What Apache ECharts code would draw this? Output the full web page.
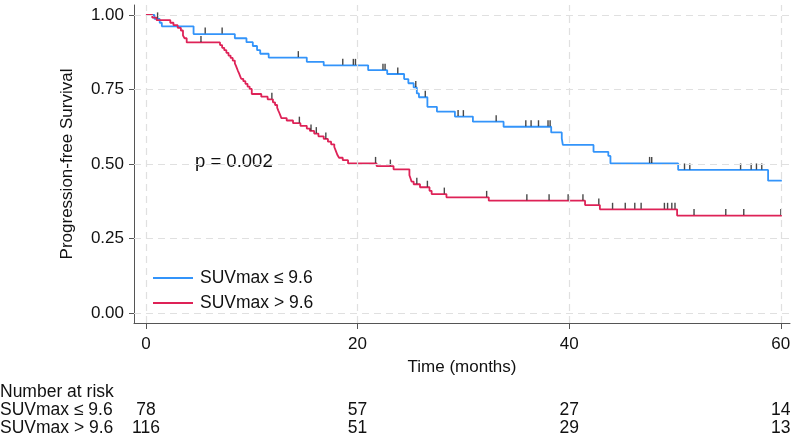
<!DOCTYPE html>
<html><head><meta charset="utf-8">
<script src="https://cdn.jsdelivr.net/npm/echarts@6/dist/echarts.min.js"></script>
<style>html,body{margin:0;padding:0;background:#fff}#c{width:794px;height:437px}</style>
</head><body><div id="c"></div>
<script>
const xTicks = [0, 20, 40, 60];
const yTicks = [0, 0.25, 0.5, 0.75, 1];
const groupNames = ['SUVmax ≤ 9.6', 'SUVmax > 9.6'];

const blueTimes = [0, 0.8, 1.3, 1.5, 4.5, 8.4, 9.5, 10.1, 10.5, 10.8, 11.6, 15.2, 16.8, 21.0, 22.8, 24.4, 24.8, 25.3, 25.6, 25.8, 26.6, 27.5, 29.2, 30.9, 33.8, 38.3, 39.3, 39.4, 42.3, 43.7, 43.9, 50.3, 58.8, 60.1];
const blueSurv  = [1.0, 0.987, 0.974, 0.962, 0.936, 0.922, 0.909, 0.896, 0.882, 0.870, 0.857, 0.843, 0.831, 0.815, 0.802, 0.785, 0.771, 0.757, 0.737, 0.724, 0.692, 0.676, 0.659, 0.642, 0.625, 0.606, 0.586, 0.564, 0.541, 0.527, 0.502, 0.480, 0.444, 0.444];
const blueCensor = [1.1, 5.6, 7.2, 14.4, 18.6, 19.6, 19.8, 22.4, 22.6, 23.8, 25.5, 26.4, 29.5, 30.0, 33.1, 35.9, 36.4, 37.1, 38.0, 38.2, 47.6, 47.8, 50.9, 51.4, 56.2, 57.2, 57.7, 58.2];

const redTimes = [0, 0.6, 1.0, 2.3, 2.6, 3.0, 3.3, 3.5, 3.65, 3.85, 7.0, 7.2, 7.4, 7.6, 7.8, 8.0, 8.2, 8.4, 8.5, 8.6, 8.7, 8.8, 8.9, 9.0, 9.2, 9.4, 9.6, 9.8, 10.0, 10.9, 11.5, 12.0, 12.2, 12.4, 12.5, 12.6, 12.7, 12.8, 13.3, 13.9, 14.6, 15.2, 15.5, 15.9, 16.3, 16.8, 17.2, 17.5, 17.8, 17.9, 18.0, 18.1, 18.25, 18.6, 19.1, 21.8, 23.4, 24.9, 25.0, 25.1, 25.3, 25.9, 26.8, 27.0, 28.4, 32.4, 41.5, 42.9, 50.2, 60.1];
const redSurv  = [1.0, 0.991, 0.983, 0.974, 0.966, 0.957, 0.948, 0.931, 0.922, 0.908, 0.899, 0.890, 0.882, 0.873, 0.864, 0.856, 0.847, 0.838, 0.830, 0.821, 0.812, 0.804, 0.795, 0.786, 0.778, 0.769, 0.760, 0.752, 0.735, 0.726, 0.717, 0.707, 0.698, 0.689, 0.680, 0.672, 0.663, 0.654, 0.646, 0.637, 0.628, 0.619, 0.611, 0.602, 0.593, 0.584, 0.575, 0.566, 0.557, 0.548, 0.539, 0.530, 0.521, 0.513, 0.502, 0.493, 0.482, 0.462, 0.452, 0.441, 0.432, 0.422, 0.410, 0.399, 0.388, 0.377, 0.362, 0.348, 0.327, 0.327];
const redCensor = [5.2, 11.9, 14.5, 15.6, 16.1, 17.0, 21.7, 23.1, 25.6, 26.6, 28.2, 32.2, 36.0, 38.1, 39.9, 41.3, 42.8, 44.1, 45.3, 46.2, 46.8, 49.0, 49.3, 49.7, 50.0, 51.8, 54.8, 56.5, 60.0];

const riskTimes = [0, 20, 40, 60];
const riskBlue = [78, 57, 27, 14];
const riskRed = [116, 51, 29, 13];
const riskTitle = 'Number at risk';
const pText = 'p = 0.002';
const xTitle = 'Time (months)';
const yTitle = 'Progression-free Survival';

const BLUE = '#3394fa';
const RED = '#de2257';
const FONT = 'Liberation Sans, Arial, sans-serif';

function levelAt(times, surv, t) {
  let v = surv[0];
  for (let i = 0; i < times.length; i++) { if (times[i] <= t) v = surv[i]; }
  return v;
}
const zip = (a, b) => a.map((t, i) => [t, b[i]]);
const censorPts = (c, times, surv) => c.map(t => [t, levelAt(times, surv, t)]);

const chart = echarts.init(document.getElementById('c'), null, { renderer: 'canvas' });

const gridLines = yTicks.map(v => ({ yAxis: v })).concat(xTicks.map(v => ({ xAxis: v })));

const option = {
  animation: false,
  backgroundColor: '#fff',
  textStyle: { fontFamily: FONT },
  grid: { left: 134, right: 4, top: 5, bottom: 114, containLabel: false },
  xAxis: {
    type: 'value', min: -1.13, max: 60.87,
    name: xTitle, nameLocation: 'middle', nameGap: 36,
    nameTextStyle: { fontSize: 17, color: '#111', fontFamily: FONT },
    axisLine: { show: true, onZero: false, lineStyle: { color: '#555', width: 1 } },
    axisTick: { show: true, length: 6, customValues: xTicks, lineStyle: { color: '#555' } },
    axisLabel: { customValues: xTicks, margin: 13, fontSize: 17, color: '#111', fontFamily: FONT },
    splitLine: { show: false }
  },
  yAxis: {
    type: 'value', min: -0.0336, max: 1.0336,
    name: yTitle, nameLocation: 'middle', nameGap: 58, nameRotate: 90,
    nameTextStyle: { fontSize: 17, color: '#111', fontFamily: FONT },
    axisLine: { show: true, onZero: false, lineStyle: { color: '#555', width: 1 } },
    axisTick: { show: true, length: 5, customValues: yTicks, lineStyle: { color: '#555' } },
    axisLabel: { customValues: yTicks, margin: 10, fontSize: 17, color: '#111', fontFamily: FONT,
      formatter: v => v.toFixed(2) },
    splitLine: { show: false }
  },
  legend: {
    orient: 'vertical', left: 148, top: 264,
    data: groupNames, icon: 'rect', itemWidth: 40, itemHeight: 2, itemGap: 7,
    textStyle: { fontSize: 17.5, color: '#111', fontFamily: FONT, lineHeight: 18, padding: [0, 0, 0, 2] },
    selectedMode: false
  },
  series: [
    {
      name: 'grid', type: 'line', data: [], silent: true,
      markLine: { silent: true, symbol: 'none', label: { show: false },
        lineStyle: { color: '#e0e0e0', type: [7, 5], width: 1.2 }, animation: false,
        data: gridLines }
    },
    { name: groupNames[0], type: 'line', step: 'end', showSymbol: false, symbol: 'none',
      data: zip(blueTimes, blueSurv), color: BLUE, lineStyle: { color: BLUE, width: 1.8 }, z: 3 },
    { name: groupNames[1], type: 'line', step: 'end', showSymbol: false, symbol: 'none',
      data: zip(redTimes, redSurv), color: RED, lineStyle: { color: RED, width: 1.8 }, z: 3 },
    { name: 'censor1', type: 'scatter', symbol: 'rect', symbolSize: [1.4, 6], symbolOffset: [0, -3.5],
      data: censorPts(blueCensor, blueTimes, blueSurv), itemStyle: { color: '#1a1a1a' }, z: 4, silent: true },
    { name: 'censor2', type: 'scatter', symbol: 'rect', symbolSize: [1.4, 6], symbolOffset: [0, -3.5],
      data: censorPts(redCensor, redTimes, redSurv), itemStyle: { color: '#1a1a1a' }, z: 4, silent: true }
  ]
};
chart.setOption(option);

const txt = (x, y, s, align, size) => ({
  type: 'text', x: x, y: y,
  style: { text: s, fill: '#111', font: (size || 17.5) + 'px ' + FONT, textAlign: align || 'left', textVerticalAlign: 'middle' }
});
const gfx = [];
gfx.push(txt(195, 162, pText, 'left', 18.5));
gfx.push(txt(0, 392, riskTitle));
gfx.push(txt(0, 410, groupNames[0]));
gfx.push(txt(0, 428, groupNames[1]));
riskTimes.forEach((t, i) => {
  const px = chart.convertToPixel({ xAxisIndex: 0 }, t);
  gfx.push(txt(px, 410, String(riskBlue[i]), 'center'));
  gfx.push(txt(px, 428, String(riskRed[i]), 'center'));
});
chart.setOption({ graphic: gfx });
</script></body></html>
